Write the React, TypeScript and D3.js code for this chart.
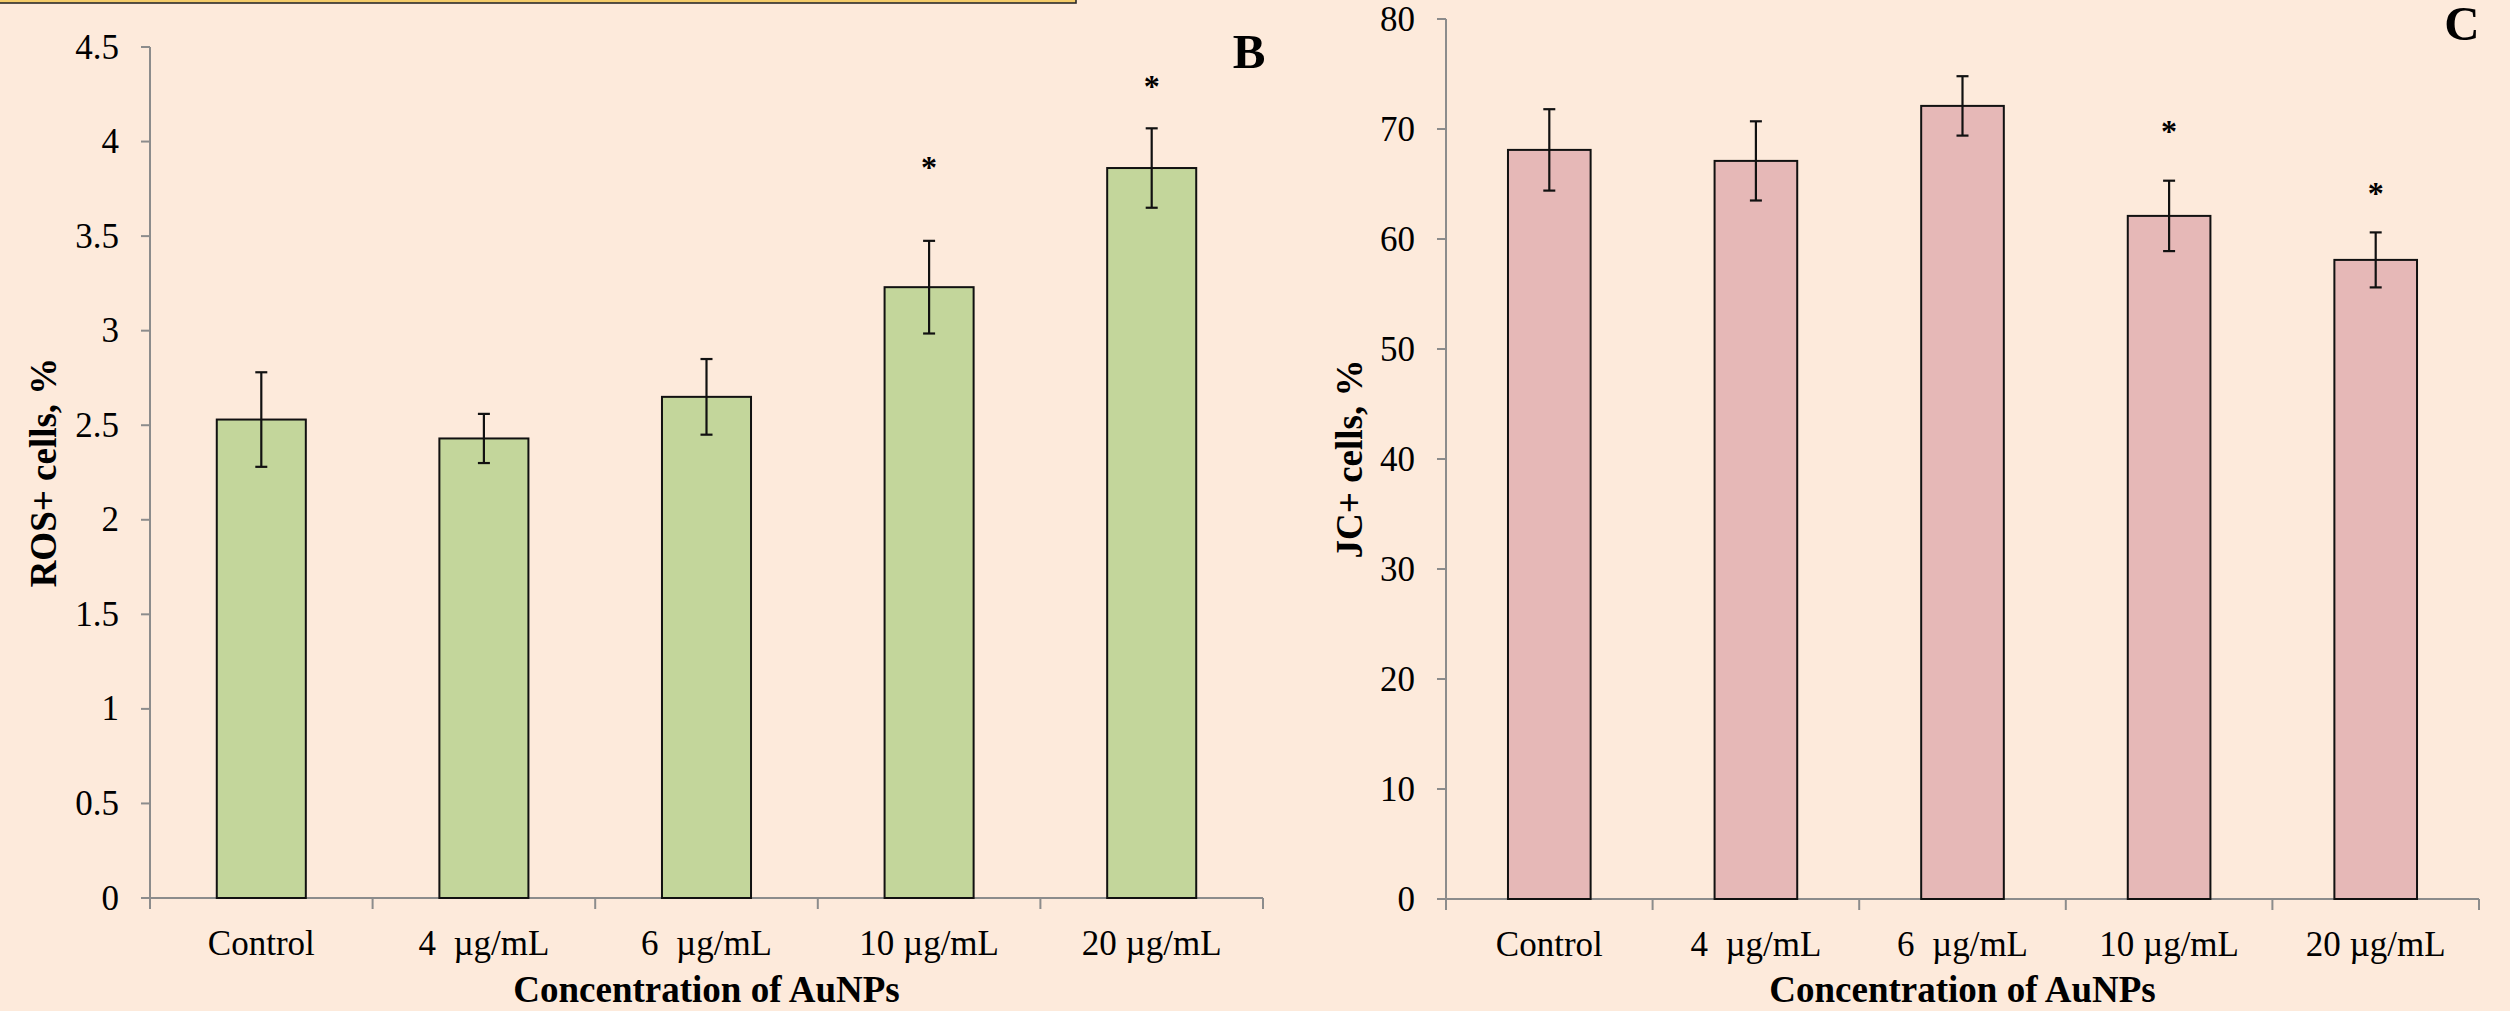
import * as d3 from 'd3';

const categories = ['Control', '4  µg/mL', '6  µg/mL', '10 µg/mL', '20 µg/mL'];

// Panel B: ROS+ cells
const rosValues = [2.53, 2.43, 2.65, 3.23, 3.86];
const rosErrors = [0.25, 0.13, 0.2, 0.245, 0.21];
const rosStars = [null, null, null, 3.89, 4.32];
const rosTicks = [0, 0.5, 1, 1.5, 2, 2.5, 3, 3.5, 4, 4.5];

// Panel C: JC+ cells
const jcValues = [68.1, 67.1, 72.1, 62.1, 58.1];
const jcErrors = [3.7, 3.6, 2.7, 3.2, 2.5];
const jcStars = [null, null, null, 70.3, 64.6];
const jcTicks = [0, 10, 20, 30, 40, 50, 60, 70, 80];

const FONT = '"Liberation Serif", "Times New Roman", serif';

interface PanelProps {
  x0: number;
  x1: number;
  yTop: number;
  yBottom: number;
  max: number;
  values: number[];
  errors: number[];
  stars: (number | null)[];
  ticks: number[];
  fill: string;
  yTitle: string;
  yTitleX: number;
  letter: string;
  letterX: number;
  letterY: number;
}

function Panel(p: PanelProps) {
  const x = d3.scaleBand<string>()
    .domain(categories)
    .range([p.x0, p.x1])
    .paddingInner(0.6)
    .paddingOuter(0.3);
  const y = d3.scaleLinear().domain([0, p.max]).range([p.yBottom, p.yTop]);
  const step = x.step();
  const bw = x.bandwidth();

  return (
    <g>
      {/* y axis */}
      <line x1={p.x0} x2={p.x0} y1={p.yTop} y2={p.yBottom} stroke="#8c8c8c" strokeWidth={2} />
      {p.ticks.map(t => (
        <g key={t}>
          <line x1={p.x0 - 9} x2={p.x0} y1={y(t)} y2={y(t)} stroke="#8c8c8c" strokeWidth={2} />
          <text x={p.x0 - 31} y={y(t)} dy="0.33em" textAnchor="end" fontSize={35} fontFamily={FONT} fill="#000">
            {String(t)}
          </text>
        </g>
      ))}
      {/* x axis */}
      <line x1={p.x0 - 9} x2={p.x1} y1={p.yBottom} y2={p.yBottom} stroke="#8c8c8c" strokeWidth={2} />
      {d3.range(categories.length + 1).map(i => (
        <line key={i} x1={p.x0 + i * step} x2={p.x0 + i * step} y1={p.yBottom} y2={p.yBottom + 11} stroke="#8c8c8c" strokeWidth={2} />
      ))}
      {categories.map(c => (
        <text key={c} x={(x(c) as number) + bw / 2} y={p.yBottom + 57} textAnchor="middle" fontSize={35}
          fontFamily={FONT} fill="#000" style={{ whiteSpace: 'pre' }}>
          {c}
        </text>
      ))}

      {/* bars */}
      {categories.map((c, i) => (
        <rect key={c} x={x(c)} y={y(p.values[i])} width={bw} height={p.yBottom - y(p.values[i])}
          fill={p.fill} stroke="#111" strokeWidth={2} />
      ))}

      {/* error bars */}
      {categories.map((c, i) => {
        const cx = (x(c) as number) + bw / 2;
        const hi = y(p.values[i] + p.errors[i]);
        const lo = y(p.values[i] - p.errors[i]);
        return (
          <g key={c} stroke="#111" strokeWidth={2.2}>
            <line x1={cx} x2={cx} y1={hi} y2={lo} />
            <line x1={cx - 6} x2={cx + 6} y1={hi} y2={hi} />
            <line x1={cx - 6} x2={cx + 6} y1={lo} y2={lo} />
          </g>
        );
      })}

      {/* significance marks */}
      {categories.map((c, i) => p.stars[i] == null ? null : (
        <text key={c} x={(x(c) as number) + bw / 2} y={y(p.stars[i] as number) + 16} textAnchor="middle"
          fontSize={32} fontWeight="bold" fontFamily={FONT} fill="#000">*</text>
      ))}

      {/* axis titles */}
      <text transform={`translate(${p.yTitleX},${(p.yTop + p.yBottom) / 2}) rotate(-90)`} textAnchor="middle"
        fontSize={37} fontWeight="bold" fontFamily={FONT} fill="#000">
        {p.yTitle}
      </text>
      <text x={(p.x0 + p.x1) / 2} y={1002} textAnchor="middle" fontSize={37} fontWeight="bold"
        fontFamily={FONT} fill="#000">
        Concentration of AuNPs
      </text>

      <text x={p.letterX} y={p.letterY} textAnchor="middle" fontSize={49} fontWeight="bold" fontFamily={FONT} fill="#000">
        {p.letter}
      </text>
    </g>
  );
}

export default function App() {
  return (
    <svg width={2510} height={1011} style={{ position: 'absolute', left: 0, top: 0, display: 'block' }}>
      <rect x={0} y={0} width={2510} height={1011} fill="#fdeadb" />
      {/* edge of the panel above */}
      <rect x={-3} y={-12} width={1079} height={15} fill="#f4cc6a" stroke="#2b2b2b" strokeWidth={1.6} />

      <Panel x0={150} x1={1263} yTop={47} yBottom={898} max={4.5}
        values={rosValues} errors={rosErrors} stars={rosStars} ticks={rosTicks}
        fill="#c3d69b" yTitle="ROS+ cells, %" yTitleX={56}
        letter="B" letterX={1249} letterY={68} />

      <Panel x0={1446} x1={2479} yTop={19} yBottom={899} max={80}
        values={jcValues} errors={jcErrors} stars={jcStars} ticks={jcTicks}
        fill="#e6b8b7" yTitle="JC+ cells, %" yTitleX={1362}
        letter="C" letterX={2462} letterY={40} />
    </svg>
  );
}
